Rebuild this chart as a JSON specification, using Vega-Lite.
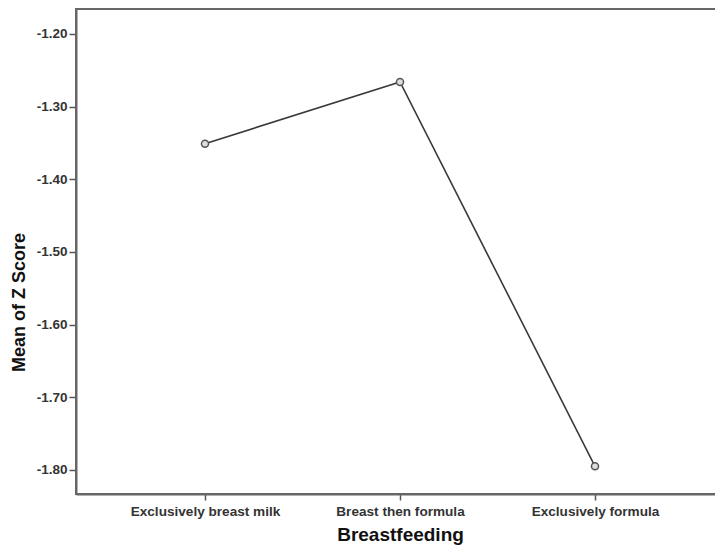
{
  "$schema": "https://vega.github.io/schema/vega-lite/v6.json",
  "autosize": "none",
  "padding": {"left": 76, "top": 9, "right": -9, "bottom": 51},
  "width": 648,
  "height": 485,
  "background": "white",
  "config": {
    "view": {"stroke": "#666666", "strokeWidth": 2},
    "font": "Liberation Sans"
  },
  "data": {
    "values": [
      {"Breastfeeding": "Exclusively breast milk", "MeanZ": -1.351},
      {"Breastfeeding": "Breast then formula", "MeanZ": -1.266},
      {"Breastfeeding": "Exclusively formula", "MeanZ": -1.795}
    ]
  },
  "encoding": {
    "x": {
      "field": "Breastfeeding",
      "type": "nominal",
      "sort": null,
      "scale": {"type": "point", "padding": 0.6615},
      "axis": {
        "title": "Breastfeeding",
        "labelAngle": 0,
        "labelFont": "Liberation Sans",
        "labelFontSize": 13.6,
        "labelFontWeight": "bold",
        "labelColor": "#333333",
        "labelPadding": 4,
        "tickColor": "#555555",
        "tickSize": 6,
        "tickWidth": 1.5,
        "domainColor": "#666666",
        "domainWidth": 2,
        "grid": false,
        "titleFont": "Liberation Sans",
        "titleFontSize": 19,
        "titleFontWeight": "bold",
        "titleColor": "#111111",
        "titleBaseline": "alphabetic",
        "titleY": 46
      }
    },
    "y": {
      "field": "MeanZ",
      "type": "quantitative",
      "scale": {"domain": [-1.8331, -1.1656], "nice": false, "zero": false},
      "axis": {
        "title": "Mean of Z Score",
        "values": [-1.8, -1.7, -1.6, -1.5, -1.4, -1.3, -1.2],
        "format": ".2f",
        "labelExpr": "replace(datum.label, '\u2212', '-')",
        "labelFont": "Liberation Sans",
        "labelFontSize": 13.5,
        "labelFontWeight": "bold",
        "labelColor": "#333333",
        "labelPadding": 2,
        "tickColor": "#555555",
        "tickSize": 7,
        "tickWidth": 1.5,
        "domainColor": "#666666",
        "domainWidth": 2,
        "grid": false,
        "titleFont": "Liberation Sans",
        "titleFontSize": 18,
        "titleFontWeight": "bold",
        "titleColor": "#111111",
        "titleX": -48,
        "titleY": 293
      }
    }
  },
  "layer": [
    {
      "mark": {"type": "line", "color": "#3a3a3a", "strokeWidth": 1.6}
    },
    {
      "mark": {"type": "point", "shape": "circle", "size": 50, "filled": false, "fill": "#dddddd", "fillOpacity": 1, "stroke": "#555555", "strokeWidth": 1.5, "opacity": 1}
    }
  ]
}
